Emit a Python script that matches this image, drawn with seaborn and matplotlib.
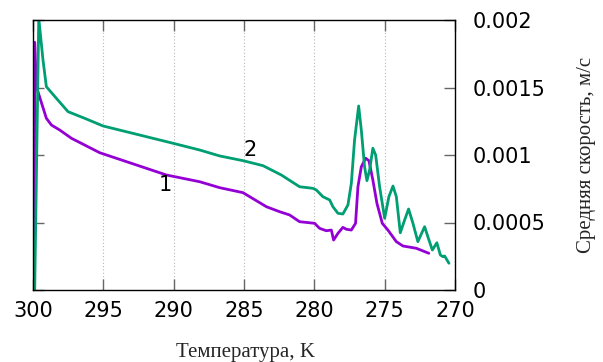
import numpy as np
import pandas as pd
import matplotlib
matplotlib.use("Agg")
import matplotlib.pyplot as plt
import seaborn as sns

# Curve 1: temperature (K) and mean velocity (m/s)
t1 = [299.90, 299.88, 299.76, 299.05, 298.69, 298.10, 297.27, 295.26, 290.52,
      288.15, 286.73, 285.07, 283.41, 282.47, 281.76, 281.05, 279.98, 279.63, 279.15,
      278.79, 278.63, 278.32, 277.97, 277.73, 277.37, 277.07, 276.90, 276.66, 276.35,
      276.12, 275.84, 275.55, 275.17, 274.77, 274.17, 273.70, 272.75, 271.86]
v1 = [0.0, 0.001835, 0.001506, 0.001272, 0.001222, 0.001185, 0.001124, 0.001017, 0.000852,
      0.000802, 0.000758, 0.000721, 0.000617, 0.000580, 0.000556, 0.000506, 0.000494, 0.000457, 0.000439,
      0.000444, 0.000370, 0.000420, 0.000464, 0.000450, 0.000444, 0.000494, 0.000765, 0.000913, 0.000976,
      0.000958, 0.000815, 0.000642, 0.000494, 0.000444, 0.000358, 0.000326, 0.000309, 0.000272]

# Curve 2
t2 = [299.88, 299.59, 299.29, 299.05, 298.34, 297.51, 296.33, 295.02, 290.05, 288.15,
      286.73, 285.07, 283.65, 282.35, 281.05, 280.10, 279.86, 279.39, 278.91, 278.68,
      278.32, 277.97, 277.61, 277.37, 277.14, 276.85, 276.66, 276.43, 276.26, 276.07,
      275.84, 275.64, 275.36, 275.00, 274.70, 274.41, 274.17, 273.89, 273.58, 273.30,
      272.99, 272.64, 272.16, 271.93, 271.61, 271.29, 271.04, 270.86, 270.74, 270.43]
v2 = [0.0, 0.002013, 0.001704, 0.001506, 0.001420, 0.001321, 0.001272, 0.001215, 0.001087, 0.001037,
      0.000993, 0.000958, 0.000921, 0.000852, 0.000765, 0.000753, 0.000741, 0.000691, 0.000667, 0.000617,
      0.000568, 0.000563, 0.000630, 0.000790, 0.001111, 0.001363, 0.001185, 0.000913, 0.000810, 0.000889,
      0.001050, 0.001000, 0.000765, 0.000531, 0.000691, 0.000770, 0.000691, 0.000424, 0.000519, 0.000600,
      0.000494, 0.000358, 0.000469, 0.000395, 0.000296, 0.000350, 0.000259, 0.000247, 0.000252, 0.000198]

x_ticks = [300, 295, 290, 285, 280, 275, 270]
y_ticks = [0, 0.0005, 0.001, 0.0015, 0.002]
y_tick_labels = ["0", "0.0005", "0.001", "0.0015", "0.002"]
curve_labels = ["1", "2"]
curve_label_pos = [(290.6, 0.000775), (284.6, 0.00104)]

sns.set_style("white")
plt.rcParams["font.family"] = ["DejaVu Sans"]

df1 = pd.DataFrame({"T": t1, "v": v1})
df2 = pd.DataFrame({"T": t2, "v": v2})

fig = plt.figure(figsize=(6.03, 3.62), dpi=100)
ax = fig.add_axes([33 / 603, 1 - 290 / 362, 422 / 603, 270 / 362])

line_kw = dict(sort=False, ax=ax, lw=2.0, solid_joinstyle="round", solid_capstyle="round")
sns.lineplot(data=df1, x="T", y="v", color="#9400D3", **line_kw)
sns.lineplot(data=df2, x="T", y="v", color="#009E73", **line_kw)

ax.set_xlim(300, 270)
ax.set_ylim(0, 0.002)
ax.set_xticks(x_ticks)
ax.set_xticklabels([str(t) for t in x_ticks])
ax.set_yticks(y_ticks)
ax.set_yticklabels(y_tick_labels)

# vertical dotted grid at inner x ticks
for t in x_ticks[1:-1]:
    ax.axvline(t, color="#b8b8b8", lw=0.8, ls=(0, (1, 2)), zorder=0)

for s in ax.spines.values():
    s.set_color("black")
    s.set_linewidth(1.0)
    s.set_zorder(5)

ax.tick_params(axis="x", which="both", direction="in", length=8, width=1, color="#666666",
               top=True, bottom=True, labelsize=15, pad=8, labelcolor="black")
ax.tick_params(axis="y", which="both", direction="in", length=8, width=1, color="#666666",
               left=True, right=True, labelleft=False, labelright=True, labelsize=15, pad=13,
               labelcolor="black")

for (x, y), lab in zip(curve_label_pos, curve_labels):
    ax.text(x, y, lab, fontsize=15, ha="center", va="center", color="black")

ax.set_xlabel("Температура, K", fontfamily="Liberation Serif", fontsize=15)
ax.xaxis.set_label_coords((245 - 33) / 422, (290 - 352) / 270)
ax.xaxis.label.set_va("center")
ax.set_ylabel("Средняя скорость, м/с", fontfamily="Liberation Serif", fontsize=15)
ax.yaxis.set_label_position("right")
ax.yaxis.set_label_coords((587 - 33) / 422, 0.5)
ax.yaxis.label.set_va("center")
ax.yaxis.label.set_ha("center")
ax.yaxis.label.set_rotation(90)

fig.savefig("out.png", dpi=100)
